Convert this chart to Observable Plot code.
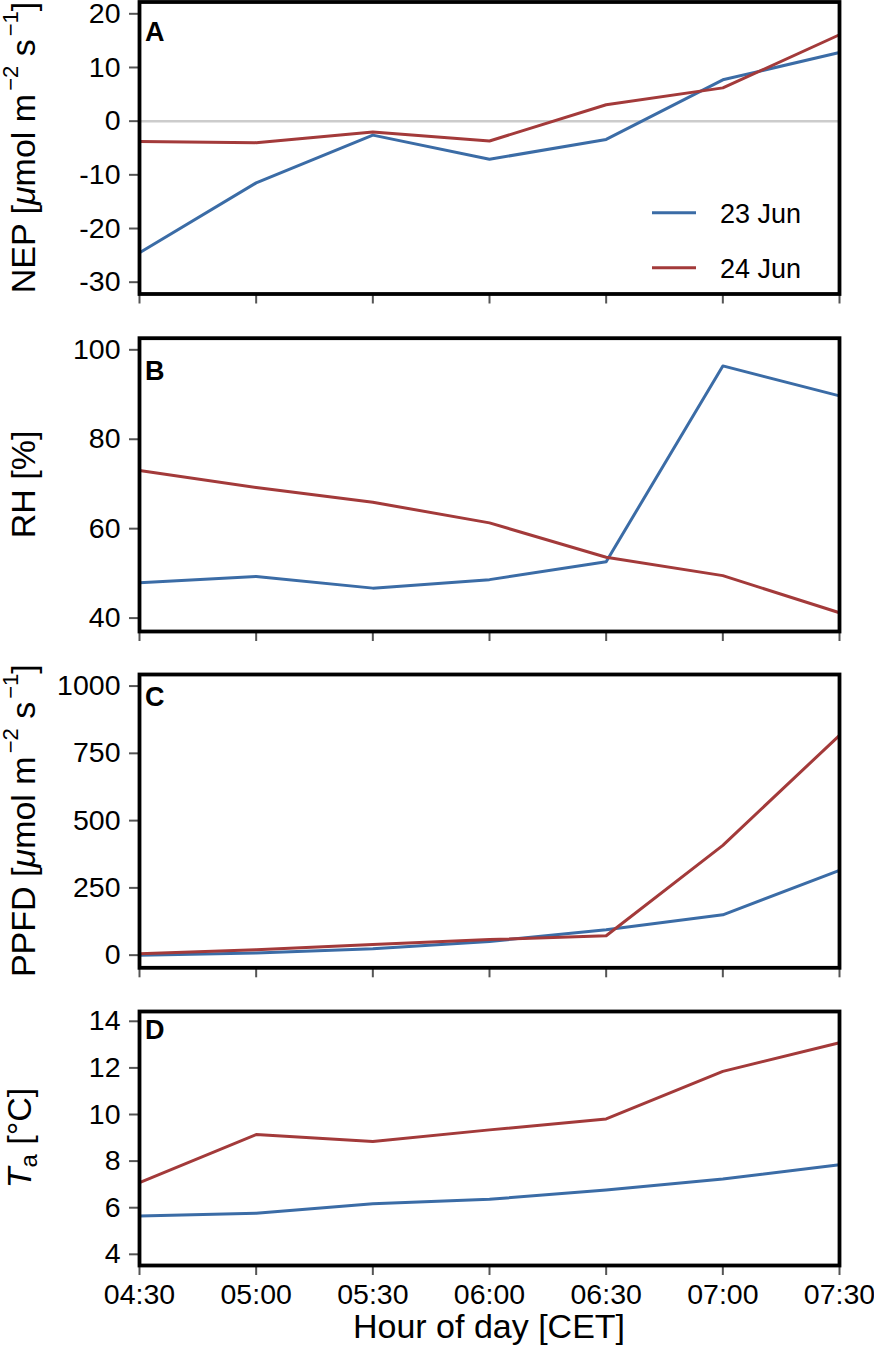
<!DOCTYPE html>
<html><head><meta charset="utf-8">
<script src="https://cdn.jsdelivr.net/npm/d3@7"></script>
<script src="https://cdn.jsdelivr.net/npm/@observablehq/plot@0.6"></script>
<style>
body{margin:0;background:#fff;}
#chart{width:874px;}
#chart svg{display:block;}
</style></head><body><div id="chart"></div>
<script>
// ---- data ----
const hours = ["04:30","05:00","05:30","06:00","06:30","07:00","07:30"];
const dates = ["23 Jun","24 Jun"];
const nep23 = [-24.5, -11.5, -2.6, -7.1, -3.4, 7.7, 12.8];
const nep24 = [-3.8, -4.0, -2.0, -3.7, 3.05, 6.2, 16.1];
const rh23 = [47.9, 49.3, 46.7, 48.6, 52.6, 96.4, 89.7];
const rh24 = [73.0, 69.2, 65.9, 61.3, 53.6, 49.5, 41.2];
const ppfd23 = [0, 8, 24, 51, 94, 150, 315];
const ppfd24 = [5, 20, 40, 58, 72, 408, 817];
const ta23 = [5.64, 5.76, 6.17, 6.36, 6.76, 7.23, 7.84];
const ta24 = [7.08, 9.14, 8.84, 9.34, 9.81, 11.85, 13.08];
const ticksNEP = [-30, -20, -10, 0, 10, 20];
const ticksRH = [40, 60, 80, 100];
const ticksPPFD = [0, 250, 500, 750, 1000];
const ticksTa = [4, 6, 8, 10, 12, 14];
const colors = ["#3b6ca6", "#a33a3a"];

// ---- layout ----
const FONT = "'Liberation Sans', Arial, Helvetica, sans-serif";
const W = 874, ML = 139, MR = 35;
const supU = "\u2212";

const panels = [
  {letter:"A", s23:nep23, s24:nep24, domain:[-32.2, 22.2], ticks:ticksNEP, zero:true, legend:true,
   height:318, mt:1.5, mb:24.5, letterDy:39.5, labelX:35,
   label:[{t:"NEP ["},{t:"\u03bc",it:true},{t:"mol m"},{t:supU+"2",sup:true},{t:" s"},{t:supU+"1",sup:true},{t:"]"}]},
  {letter:"B", s23:rh23, s24:rh24, domain:[37.0, 102.6], ticks:ticksRH,
   height:334, mt:19.7, mb:21, letterDy:42.3, labelX:35,
   label:[{t:"RH [%]"}]},
  {letter:"C", s23:ppfd23, s24:ppfd24, domain:[-47, 1043], ticks:ticksPPFD,
   height:337, mt:22, mb:21.7, letterDy:31.7, labelX:35,
   label:[{t:"PPFD ["},{t:"\u03bc",it:true},{t:"mol m"},{t:supU+"2",sup:true},{t:" s"},{t:supU+"1",sup:true},{t:"]"}]},
  {letter:"D", s23:ta23, s24:ta24, domain:[3.52, 14.42], ticks:ticksTa, bottom:true,
   height:358, mt:22, mb:82, letterDy:28, labelX:31,
   label:[{t:"T",it:true},{t:"a",sub:true},{t:" [\u00b0C]"}]}
];

function addLabel(svg, p) {
  const cy = (p.mt + (p.height - p.mb)) / 2;
  const t = d3.select(svg).append("text")
    .attr("transform", `translate(${p.labelX},${cy}) rotate(-90)`)
    .attr("text-anchor", "middle")
    .attr("font-family", FONT).attr("font-size", 34).attr("fill", "black");
  let shift = 0;
  for (const part of p.label) {
    const ts = t.append("tspan").text(part.t);
    let target = 0;
    if (part.sup) { target = -17; ts.attr("font-size", 22).attr("dx", 3); }
    if (part.sub) { target = 6; ts.attr("font-size", 24); }
    if (part.it) ts.attr("font-style", "italic");
    if (target !== shift) { ts.attr("dy", target - shift); shift = target; }
  }
}

function makePanel(p) {
  const rows = [];
  hours.forEach((h, i) => rows.push({i, v: p.s23[i], date: dates[0]}));
  hours.forEach((h, i) => rows.push({i, v: p.s24[i], date: dates[1]}));
  const marks = [];
  if (p.zero) marks.push(Plot.ruleY([0], {stroke: "#cccccc", strokeWidth: 2.5}));
  marks.push(Plot.line(rows, {x: "i", y: "v", z: "date", stroke: "date", strokeWidth: 3}));
  marks.push(Plot.axisY({ticks: p.ticks, tickSize: 10, tickPadding: 9, stroke: "#555", strokeWidth: 2,
    fill: "black", fontSize: 28.5, tickFormat: d => String(d), label: null}));
  marks.push(Plot.axisX({ticks: d3.range(hours.length), tickSize: 10, tickPadding: 8, stroke: "#555", strokeWidth: 2,
    fill: "black", fontSize: 28.5, tickFormat: p.bottom ? (i => hours[i]) : (() => ""), label: null}));
  marks.push(Plot.frame({stroke: "black", strokeWidth: 3.8}));
  const svg = Plot.plot({
    width: W, height: p.height,
    marginLeft: ML, marginRight: MR, marginTop: p.mt, marginBottom: p.mb,
    x: {domain: [0, hours.length - 1]},
    y: {domain: p.domain},
    color: {domain: dates, range: colors},
    style: {fontFamily: FONT, fontSize: "28px", background: "white", color: "black", overflow: "visible"},
    marks
  });
  const s = d3.select(svg);
  // panel letter
  s.append("text").attr("x", ML + 6).attr("y", p.mt + p.letterDy)
    .attr("text-anchor", "start")
    .attr("font-family", FONT).attr("font-size", 27).attr("font-weight", "bold").attr("fill", "black")
    .text(p.letter);
  addLabel(svg, p);
  if (p.legend) {
    const xr = W - MR;
    dates.forEach((d, k) => {
      const y = p.mt + 211.2 + k * 55;
      s.append("line").attr("x1", xr - 187).attr("x2", xr - 143).attr("y1", y).attr("y2", y)
        .attr("stroke", colors[k]).attr("stroke-width", 3);
      s.append("text").attr("x", xr - 119).attr("y", y + 10)
        .attr("text-anchor", "start")
        .attr("font-family", FONT).attr("font-size", 27).attr("fill", "black").text(d);
    });
  }
  if (p.bottom) {
    s.append("text").attr("x", (ML + W - MR) / 2).attr("y", 349)
      .attr("text-anchor", "middle").attr("font-family", FONT).attr("font-size", 34).attr("fill", "black")
      .text("Hour of day [CET]");
  }
  return svg;
}

const chart = document.getElementById("chart");
panels.forEach(p => chart.appendChild(makePanel(p)));
</script>
</body></html>
